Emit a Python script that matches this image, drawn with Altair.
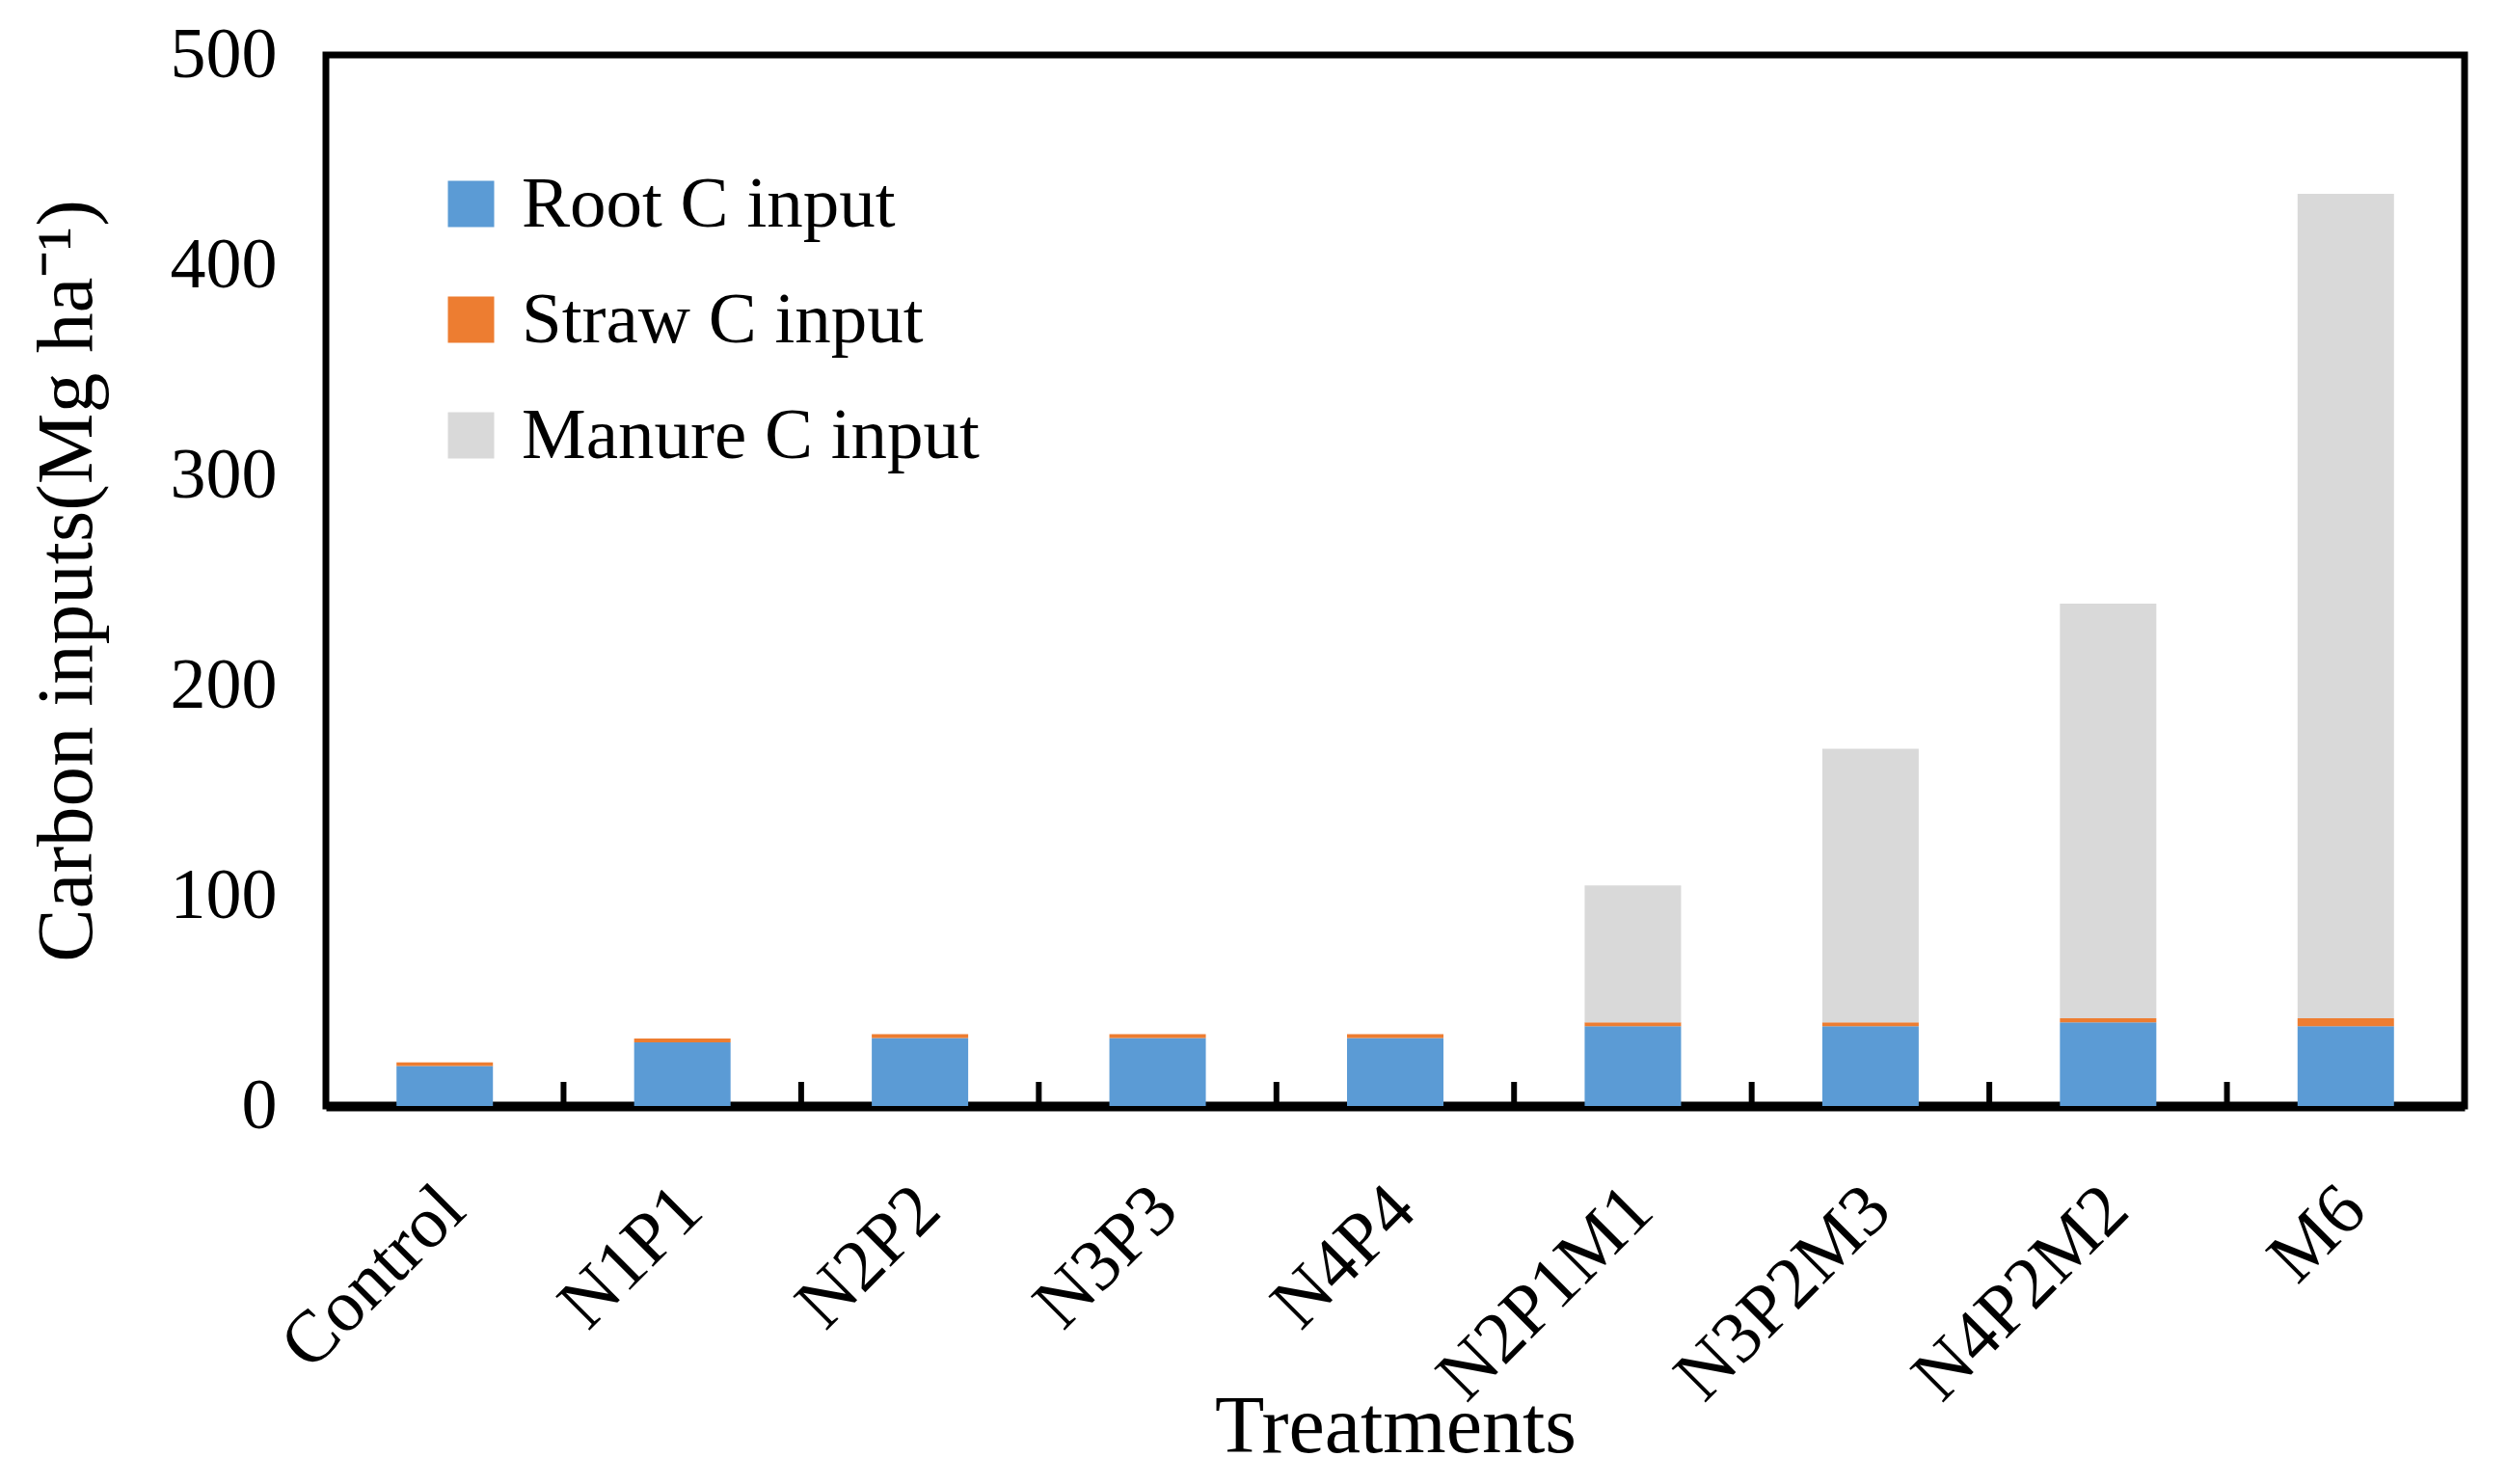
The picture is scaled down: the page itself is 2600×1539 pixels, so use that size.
import altair as alt
import pandas as pd

treatments = ["Control", "N1P1", "N2P2", "N3P3", "N4P4", "N2P1M1", "N3P2M3", "N4P2M2", "M6"]
root_c = [19.0, 30.3, 32.3, 32.3, 32.3, 38.0, 38.0, 39.8, 38.0]
straw_c = [1.8, 1.8, 1.9, 1.9, 1.9, 1.8, 1.8, 2.0, 3.8]
manure_c = [0.0, 0.0, 0.0, 0.0, 0.0, 65.1, 130.2, 197.2, 392.2]
series = ["Root C input", "Straw C input", "Manure C input"]
colors = ["#5B9BD5", "#ED7D31", "#D9D9D9"]
y_ticks = [0, 100, 200, 300, 400, 500]

rows = []
for i, t in enumerate(treatments):
    for k, (name, vals) in enumerate(zip(series, [root_c, straw_c, manure_c])):
        rows.append({"Treatment": t, "Source": name, "Value": vals[i], "order": k})
df = pd.DataFrame(rows)
tick_df = pd.DataFrame({"Treatment": treatments[1:]})

FONT = "Liberation Serif"
W, H = 2218, 1090

x_enc = alt.X(
    "Treatment:N",
    sort=treatments,
    scale=alt.Scale(paddingInner=0, paddingOuter=0),
    axis=alt.Axis(
        title="Treatments",
        labelAngle=-45,
        labelFontSize=76,
        labelFont=FONT,
        labelColor="black",
        labelPadding=69,
        labelOffset=-18,
        labelLimit=0,
        ticks=False,
        domainColor="black",
        domainWidth=10,
        titleFont=FONT,
        titleFontSize=84,
        titleFontWeight="normal",
        titleColor="black",
        titleBaseline="alphabetic",
        titleY=358,
    ),
)

bars = alt.Chart(df).mark_bar(size=100).encode(
    x=x_enc,
    y=alt.Y(
        "Value:Q",
        stack="zero",
        scale=alt.Scale(domain=[0, 500], nice=False),
        axis=alt.Axis(
            title="Carbon inputs(Mg ha⁻¹)",
            values=y_ticks,
            grid=False,
            ticks=False,
            domain=False,
            labelFontSize=74,
            labelFont=FONT,
            labelColor="black",
            labelPadding=51,
            titleFont=FONT,
            titleFontSize=83,
            titleFontWeight="normal",
            titleColor="black",
            titleBaseline="alphabetic",
            titleX=-244,
            titleY=545,
        ),
    ),
    color=alt.Color(
        "Source:N",
        scale=alt.Scale(domain=series, range=colors),
        sort=series,
        legend=alt.Legend(
            title=None,
            orient="none",
            legendX=113,
            legendY=117,
            symbolType="square",
            symbolSize=2304,
            symbolStrokeWidth=0,
            symbolOpacity=1,
            labelFont=FONT,
            labelFontSize=75,
            labelColor="black",
            labelOffset=15,
            rowPadding=44,
            padding=0,
            labelLimit=0,
        ),
    ),
    order=alt.Order("order:Q", sort="ascending"),
)

ticks = alt.Chart(tick_df).mark_rule(color="black", strokeWidth=6).encode(
    x=alt.X("Treatment:N", sort=treatments, bandPosition=0),
    y=alt.value(H - 25),
    y2=alt.value(H),
)

chart = (
    alt.layer(bars, ticks)
    .properties(
        width=W,
        height=H,
        autosize=alt.AutoSizeParams(type="none"),
        padding={"left": 330, "top": 49, "right": 36, "bottom": 382},
        background="white",
    )
    .configure_view(stroke="black", strokeWidth=7)
)

chart.save("out.html", embed_options={"renderer": "svg", "actions": False})
